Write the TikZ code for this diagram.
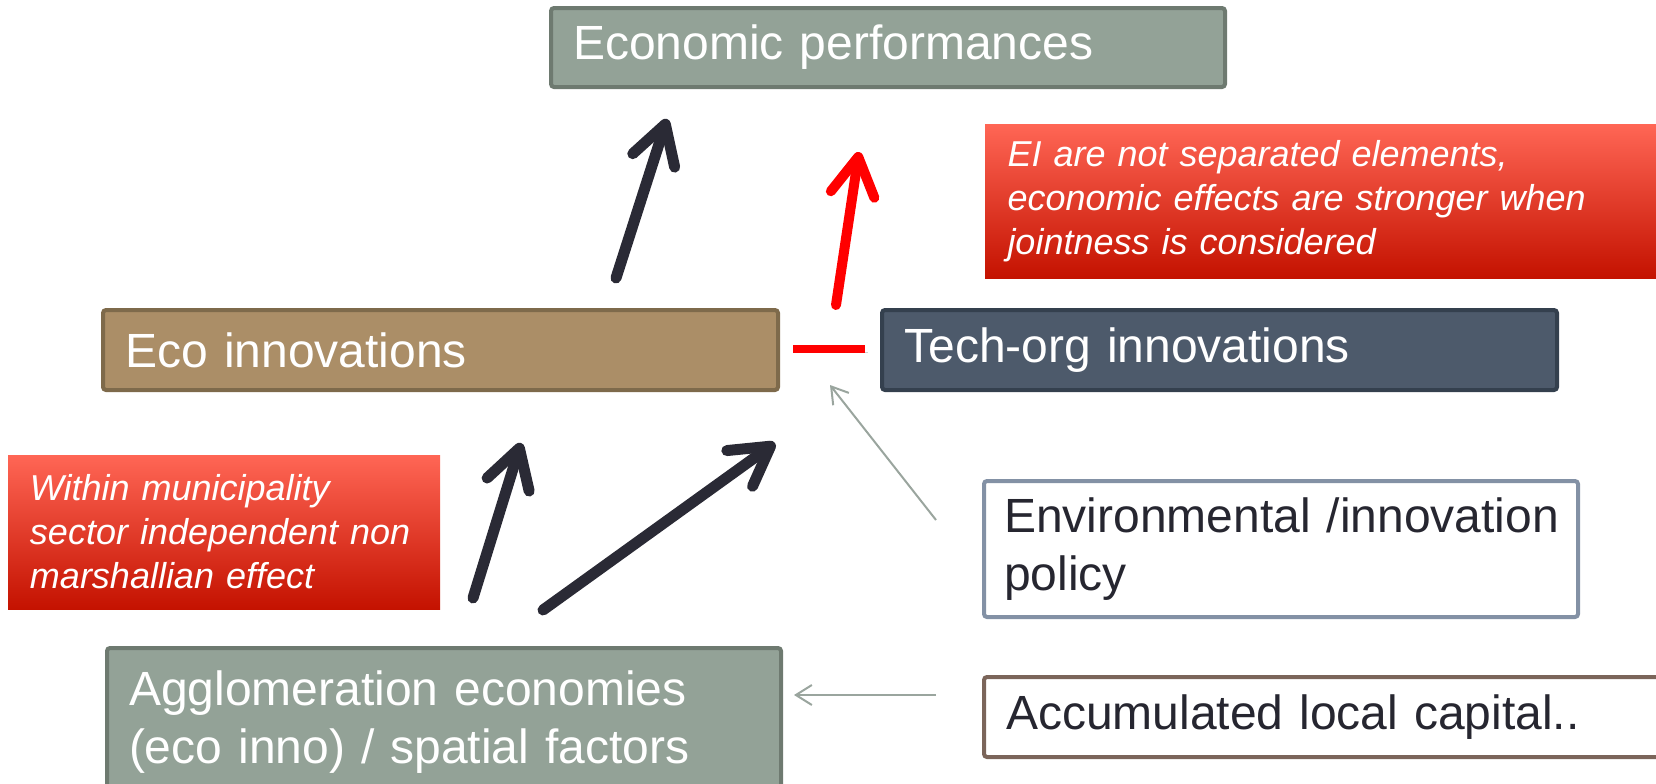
\documentclass[tikz,border=0pt]{standalone}
\usepackage{fontspec}
\setmainfont{Liberation Sans}[WordSpace=0.85]
\usetikzlibrary{arrows.meta}
\definecolor{sagefill}{HTML}{93A297}
\definecolor{sageline}{HTML}{6E7A70}
\definecolor{ecofill}{HTML}{AB8E67}
\definecolor{ecoline}{HTML}{7E6A4B}
\definecolor{techfill}{HTML}{4D5A6B}
\definecolor{techline}{HTML}{34404E}
\definecolor{envline}{HTML}{8391A5}
\definecolor{accline}{HTML}{7B655A}
\definecolor{notetop}{HTML}{FF6655}
\definecolor{notebot}{HTML}{C41200}
\definecolor{darktext}{HTML}{262630}
\definecolor{arrowdark}{HTML}{2A2A35}
\definecolor{thingrey}{HTML}{9AA59E}
\begin{document}
\begin{tikzpicture}[x=0.5pt,y=-0.5pt,
	box/.style={rounded corners=1.5pt, line width=2pt, align=left, inner xsep=11pt, inner ysep=0pt, font=\fontsize{24}{29}\selectfont},
	note/.style={top color=notetop, bottom color=notebot, align=left, inner xsep=11pt, inner ysep=0pt, text=white, font=\fontsize{18}{22}\selectfont\itshape},
	shade line/.style={preaction={draw=black!45, opacity=0.4, transform canvas={shift={(1.5pt,-1.5pt)}}}},
	bigarrow/.style={line width=5.5pt, line cap=round, shade line, -{Straight Barb[length=19pt,width=22pt,line cap=round,line join=round]}},
	thinarrow/.style={line width=1pt, thingrey, -{Straight Barb[length=8pt,width=10pt]}}]
	\useasboundingbox (0,0) rectangle (1656,783);
	
	\node[box, fill=sagefill, draw=sageline, text=white, minimum width=337pt, text width=315pt, minimum height=39.5pt] (perf) at (888,47.5) {Economic performances};
	\node[box, fill=ecofill, draw=ecoline, text=white, minimum width=337.5pt, text width=315pt, minimum height=40pt] (eco) at (440.5,350) {Eco innovations};
	\node[box, fill=techfill, draw=techline, text=white, minimum width=337.5pt, text width=315pt, minimum height=40pt] (tech) at (1219.5,350) {Tech-org innovations};
	\node[box, fill=white, draw=envline, text=darktext, inner xsep=10pt, minimum width=297pt, text width=277pt, minimum height=68pt] (policy) at (1281,549) {\mbox{Environmental /innovation}\\policy};
	\node[box, fill=white, draw=accline, text=darktext, minimum width=338pt, text width=316pt, minimum height=40pt] (capital) at (1322,717) {Accumulated local capital..};
	\node[box, fill=sagefill, draw=sageline, text=white, minimum width=337pt, text width=315pt, minimum height=74pt] (agglo) at (444,722) {Agglomeration economies\\(eco inno) / spatial factors};
	
	\node[note, minimum width=337.5pt, text width=315pt, minimum height=77pt] (joint) at (1322.5,201) {EI are not separated elements,\\economic effects are stronger when\\jointness is considered};
	\node[note, minimum width=216pt, text width=194pt, minimum height=77pt] (within) at (224,532) {Within municipality\\sector independent non\\marshallian effect};
	
	% free arrow ends
	\coordinate (ecoUp) at (616,278);
	\coordinate (perfIn) at (667,119);
	\coordinate (jointUp) at (836,305);
	\coordinate (jointIn) at (859,152);
	\coordinate (linkL) at (793,349);
	\coordinate (linkR) at (865,349);
	\coordinate (policyOut) at (936,520);
	\coordinate (policyIn) at (830,385);
	\coordinate (capitalOut) at (936,695);
	\coordinate (aggloIn) at (794,695);
	\coordinate (aggloA) at (473,598);
	\coordinate (ecoIn) at (521,443);
	\coordinate (aggloB) at (543,610);
	\coordinate (techIn) at (775,443);
	
	\draw[bigarrow, arrowdark] (ecoUp) -- (perfIn);
	\draw[bigarrow, red, line width=5pt] (jointUp) -- (jointIn);
	\draw[red, line width=4pt, shade line] (linkL) -- (linkR);
	\draw[thinarrow] (policyOut) -- (policyIn);
	\draw[thinarrow] (capitalOut) -- (aggloIn);
	\draw[bigarrow, arrowdark] (aggloA) -- (ecoIn);
	\draw[bigarrow, arrowdark] (aggloB) -- (techIn);
\end{tikzpicture}
\end{document}
